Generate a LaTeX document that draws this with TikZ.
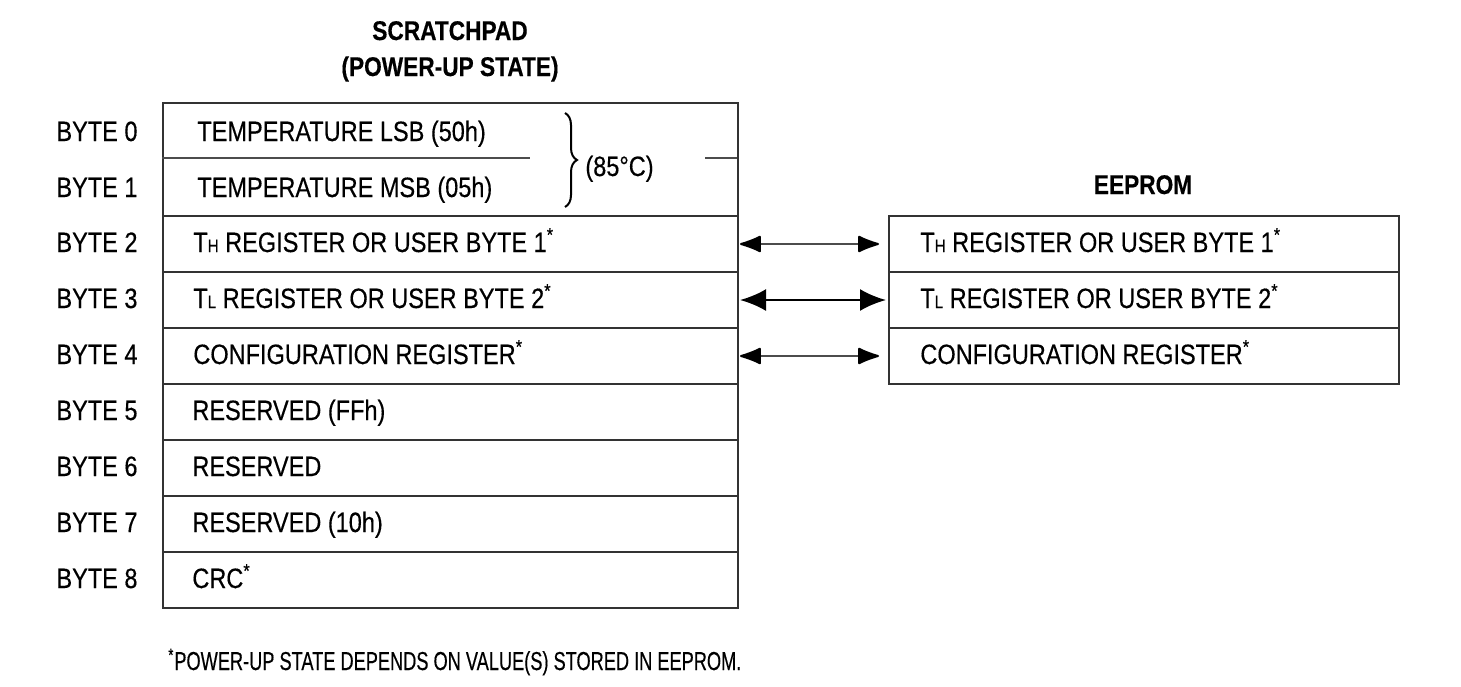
\documentclass[tikz,border=0pt]{standalone}
\usepackage{fontspec}
\setmainfont{Liberation Sans}[FakeStretch=0.84,FakeBold=0.4]
\newfontfamily\notefont{Liberation Sans}[FakeStretch=0.70,FakeBold=0.4]
\usetikzlibrary{arrows.meta,decorations.pathreplacing}
\begin{document}
\begin{tikzpicture}[x=0.5pt,y=-0.5pt,
  every node/.style={font=\fontsize{14}{16}\selectfont, inner sep=0pt},
  srow/.style={draw=black!80, line width=1pt, minimum width=287.5pt, minimum height=28pt, anchor=north west},
  erow/.style={draw=black!80, line width=1pt, minimum width=255pt, minimum height=28pt, anchor=north west},
  lbl/.style={anchor=base west},
  bytel/.style={anchor=base},
  ttl/.style={anchor=base, font=\fontsize{13.5}{15}\selectfont\bfseries},
  thin link/.style={draw=black!70, line width=1pt, {Latex[length=12pt,width=9pt,round,color=black]}-{Latex[length=12pt,width=9pt,round,color=black]}, shorten <=0.5pt, shorten >=4.5pt},
  thick link/.style={draw=black, line width=1.3pt, {Latex[length=13pt,width=11pt]}-{Latex[length=13pt,width=11pt]}, shorten <=0.5pt, shorten >=1pt}]
\useasboundingbox (0,0) rectangle (1461,686);
% titles
\node[ttl] (t1) at (450,40) {SCRATCHPAD};
\node[ttl] (t2) at (450,76) {(POWER-UP STATE)};
\node[ttl] (t3) at (1143,194) {EEPROM};
% scratchpad rows
\node[srow, minimum height=56.5pt] (s01) at (162,102) {};
\node[srow] (s2) at (162,215) {};
\node[srow] (s3) at (162,271) {};
\node[srow] (s4) at (162,327) {};
\node[srow] (s5) at (162,383) {};
\node[srow] (s6) at (162,439) {};
\node[srow] (s7) at (162,495) {};
\node[srow] (s8) at (162,551) {};
\draw[black!70, line width=1pt] (162,158) -- (530,158);
\draw[black!70, line width=1pt] (705,158) -- (737,158);
% eeprom rows
\node[erow] (e2) at (888,215) {};
\node[erow] (e3) at (888,271) {};
\node[erow] (e4) at (888,327) {};
% byte labels
\node[bytel] (b0) at (97,141) {BYTE 0};
\node[bytel] (b1) at (97,197) {BYTE 1};
\node[bytel] (b2) at (97,252) {BYTE 2};
\node[bytel] (b3) at (97,308) {BYTE 3};
\node[bytel] (b4) at (97,364) {BYTE 4};
\node[bytel] (b5) at (97,420) {BYTE 5};
\node[bytel] (b6) at (97,476) {BYTE 6};
\node[bytel] (b7) at (97,532) {BYTE 7};
\node[bytel] (b8) at (97,588) {BYTE 8};
% row texts
\node[lbl] (x0) at (197,141) {TEMPERATURE LSB (50h)};
\node[lbl] (x1) at (197,197) {TEMPERATURE MSB (05h)};
\node[lbl] (x2) at (193,252) {T{\fontsize{9}{10}\selectfont H} REGISTER OR USER BYTE 1\textsuperscript{*}};
\node[lbl] (x3) at (193,308) {T{\fontsize{9}{10}\selectfont L} REGISTER OR USER BYTE 2\textsuperscript{*}};
\node[lbl] (x4) at (193,364) {CONFIGURATION REGISTER\textsuperscript{*}};
\node[lbl] (x5) at (192,420) {RESERVED (FFh)};
\node[lbl] (x6) at (192,476) {RESERVED};
\node[lbl] (x7) at (192,532) {RESERVED (10h)};
\node[lbl] (x8) at (192,588) {CRC\textsuperscript{*}};
\node[lbl] (y2) at (920,252) {T{\fontsize{9}{10}\selectfont H} REGISTER OR USER BYTE 1\textsuperscript{*}};
\node[lbl] (y3) at (920,308) {T{\fontsize{9}{10}\selectfont L} REGISTER OR USER BYTE 2\textsuperscript{*}};
\node[lbl] (y4) at (920,364) {CONFIGURATION REGISTER\textsuperscript{*}};
% brace
\coordinate (bt) at (565,113);
\coordinate (bb) at (565,207);
\draw[line width=1pt, decorate, decoration={brace, amplitude=6pt}] (bt) -- (bb);
\node[lbl] (deg) at (585,176) {(85°C)};
% links
\draw[thin link] (s2.east) -- (e2.west);
\draw[thick link] (s3.east) -- (e3.west);
\draw[thin link] (s4.east) -- (e4.west);
% footnote
\node[lbl, font=\notefont\fontsize{13}{15}\selectfont] (fn) at (168,670) {\textsuperscript{*}POWER-UP STATE DEPENDS ON VALUE(S) STORED IN EEPROM.};
\end{tikzpicture}
\end{document}
